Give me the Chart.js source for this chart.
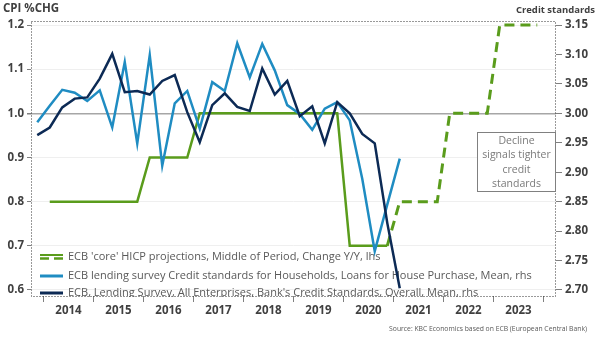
<!DOCTYPE html>
<html>
<head>
<meta charset="utf-8">
<script src="https://cdn.jsdelivr.net/npm/chart.js@4.4.0/dist/chart.umd.min.js"></script>
<style>
  html, body { margin: 0; padding: 0; background: #fff; }
</style>
</head>
<body>
<canvas id="chart" width="600" height="340"></canvas>
<script>
// quarterly observations, 2013Q4 .. 2023Q4
var quarters = [
  '2013Q4',
  '2014Q1', '2014Q2', '2014Q3', '2014Q4',
  '2015Q1', '2015Q2', '2015Q3', '2015Q4',
  '2016Q1', '2016Q2', '2016Q3', '2016Q4',
  '2017Q1', '2017Q2', '2017Q3', '2017Q4',
  '2018Q1', '2018Q2', '2018Q3', '2018Q4',
  '2019Q1', '2019Q2', '2019Q3', '2019Q4',
  '2020Q1', '2020Q2', '2020Q3', '2020Q4',
  '2021Q1', '2021Q2', '2021Q3', '2021Q4',
  '2022Q1', '2022Q2', '2022Q3', '2022Q4',
  '2023Q1', '2023Q2', '2023Q3', '2023Q4'
];
var years = ['2014', '2015', '2016', '2017', '2018', '2019', '2020', '2021', '2022', '2023'];

// ECB core HICP projection (lhs), published part and forward part
var hicpCore = [
  null,
  0.8, 0.8, 0.8, 0.8,
  0.8, 0.8, 0.8, 0.8,
  0.9, 0.9, 0.9, 0.9,
  1.0, 1.0, 1.0, 1.0,
  1.0, 1.0, 1.0, 1.0,
  1.0, 1.0, 1.0, 1.0,
  0.7, 0.7, 0.7, 0.7,
  null, null, null, null,
  null, null, null, null,
  null, null, null, null
];
var hicpProjection = [
  null,
  null, null, null, null,
  null, null, null, null,
  null, null, null, null,
  null, null, null, null,
  null, null, null, null,
  null, null, null, null,
  null, null, null, 0.7,
  0.8, 0.8, 0.8, 0.8,
  1.0, 1.0, 1.0, 1.0,
  1.2, 1.2, 1.2, 1.2
];
// lending survey credit standards (rhs)
var households = [
  2.985,
  3.013, 3.040, 3.035, 3.021,
  3.039, 2.976, 3.087, 2.949,
  3.099, 2.911, 3.017, 3.038,
  2.974, 3.053, 3.038, 3.119,
  3.061, 3.118, 3.073, 3.014,
  2.999, 2.972, 3.008, 3.019,
  2.988, 2.889, 2.766, 2.845,
  2.923, null, null, null,
  null, null, null, null,
  null, null, null, null
];
var enterprises = [
  2.963,
  2.976, 3.010, 3.025, 3.027,
  3.059, 3.101, 3.036, 3.038,
  3.032, 3.055, 3.065, 3.002,
  2.951, 3.014, 3.034, 3.011,
  3.004, 3.076, 3.032, 3.055,
  2.995, 3.012, 2.949, 3.019,
  3.000, 2.965, 2.949, 2.814,
  2.703, null, null, null,
  null, null, null, null,
  null, null, null, null
];

var lhsTicks = [0.6, 0.7, 0.8, 0.9, 1.0, 1.1, 1.2];
var rhsTicks = [2.70, 2.75, 2.80, 2.85, 2.90, 2.95, 3.00, 3.05, 3.10, 3.15];

var GREEN = '#5a9c1c';
var BLUE = '#1f8cc2';
var NAVY = '#0c2a55';
var FONT = "'Open Sans', 'DejaVu Sans', sans-serif";

function quarterPos(q) {
  return Number(q.slice(0, 4)) + (Number(q.slice(5)) - 0.5) / 4;
}
function points(values) {
  return quarters.map(function (q, i) { return { x: quarterPos(q), y: values[i] }; });
}

var legendItems = [
  { text: "ECB 'core' HICP projections, Middle of Period, Change Y/Y, lhs", color: GREEN, both: true },
  { text: 'ECB lending survey Credit standards for Households, Loans for House Purchase, Mean, rhs', color: BLUE },
  { text: "ECB, Lending Survey, All Enterprises, Bank's Credit Standards, Overall, Mean, rhs", color: NAVY }
];

// axis titles, source line, note box, in-plot legend and dotted frame
var decorations = {
  id: 'decorations',
  beforeDatasetsDraw: function (chart) {
    var ctx = chart.ctx, ca = chart.chartArea;
    ctx.save();
    ctx.beginPath();
    ctx.rect(ca.left, ca.top, ca.right - ca.left, ca.bottom - ca.top + 1);
    ctx.clip();
    var ys = [ca.top + 236, ca.top + 255, ca.top + 272];
    legendItems.forEach(function (item, i) {
      var y = ys[i], x0 = ca.left + 9, x1 = ca.left + 32;
      ctx.strokeStyle = item.color;
      if (item.both) {
        ctx.lineWidth = 2;
        ctx.beginPath(); ctx.moveTo(x0, y - 2); ctx.lineTo(x1, y - 2); ctx.stroke();
        ctx.lineWidth = 2.5;
        ctx.setLineDash([9, 5]);
        ctx.beginPath(); ctx.moveTo(x0, y + 1.5); ctx.lineTo(x1, y + 1.5); ctx.stroke();
        ctx.setLineDash([]);
      } else {
        ctx.lineWidth = 3;
        ctx.beginPath(); ctx.moveTo(x0, y); ctx.lineTo(x1, y); ctx.stroke();
      }
      ctx.fillStyle = '#595959';
      ctx.font = '11px ' + FONT;
      ctx.textAlign = 'left';
      ctx.textBaseline = 'middle';
      ctx.fillText(item.text, x1 + 5, y);
    });
    ctx.restore();
  },
  afterDraw: function (chart) {
    var ctx = chart.ctx, ca = chart.chartArea;
    ctx.save();

    // dotted plot frame
    ctx.strokeStyle = '#333';
    ctx.lineWidth = 1;
    ctx.setLineDash([1, 2]);
    ctx.strokeRect(ca.left + 0.5, ca.top + 0.5, ca.right - ca.left - 1, ca.bottom - ca.top);
    ctx.setLineDash([]);

    // axis captions
    ctx.fillStyle = '#404040';
    ctx.textBaseline = 'middle';
    ctx.textAlign = 'left';
    ctx.font = 'bold 11.5px ' + FONT;
    ctx.fillText('CPI %CHG', 3, 9);
    ctx.textAlign = 'right';
    ctx.font = 'bold 9.5px ' + FONT;
    ctx.fillText('Credit standards', 595, 10);

    // note box
    var bx = ca.right - 79, by = ca.top + 111, bw = 79, bh = 60;
    ctx.fillStyle = '#fff';
    ctx.fillRect(bx, by, bw, bh);
    ctx.strokeStyle = '#808080';
    ctx.strokeRect(bx + 0.5, by + 0.5, bw - 1, bh - 1);
    ctx.fillStyle = '#7a7a7a';
    ctx.font = '10.5px ' + FONT;
    ctx.textAlign = 'center';
    ['Decline', 'signals tighter', 'credit', 'standards'].forEach(function (line, i) {
      ctx.fillText(line, bx + bw / 2, by + 9 + i * 14.5);
    });

    // source
    ctx.fillStyle = '#595959';
    ctx.font = '6.8px ' + FONT;
    ctx.textAlign = 'right';
    ctx.fillText('Source: KBC Economics based on ECB (European Central Bank)', 587, 329);
    ctx.restore();
  }
};

var tickFont = { family: FONT, size: 11.5, weight: 'bold' };

var chart = new Chart(document.getElementById('chart'), {
  type: 'line',
  data: {
    datasets: [
      {
        label: legendItems[2].text,
        data: points(enterprises),
        yAxisID: 'y1',
        borderColor: NAVY,
        borderWidth: 2.5,
        order: 0
      },
      {
        label: legendItems[1].text,
        data: points(households),
        yAxisID: 'y1',
        borderColor: BLUE,
        borderWidth: 2.5,
        order: 1
      },
      {
        label: legendItems[0].text,
        data: points(hicpCore),
        yAxisID: 'y',
        borderColor: GREEN,
        borderWidth: 2.5,
        order: 2
      },
      {
        label: 'projection',
        data: points(hicpProjection),
        yAxisID: 'y',
        borderColor: GREEN,
        borderWidth: 3,
        borderDash: [10, 6],
        order: 3
      }
    ]
  },
  options: {
    responsive: false,
    animation: false,
    devicePixelRatio: 1,
    layout: { padding: { top: 21, left: 0, right: 0, bottom: 0 } },
    elements: {
      point: { radius: 0 },
      line: { tension: 0, borderJoinStyle: 'miter', borderCapStyle: 'butt' }
    },
    plugins: {
      legend: { display: false },
      tooltip: { enabled: false }
    },
    scales: {
      x: {
        type: 'linear',
        min: 2013.75,
        max: 2024.25,
        afterBuildTicks: function (scale) {
          var t = [];
          years.forEach(function (y) {
            t.push({ value: Number(y) });
            t.push({ value: Number(y) + 0.5 });
          });
          t.push({ value: Number(years[years.length - 1]) + 1 });
          scale.ticks = t;
        },
        afterFit: function (scale) { scale.height = 44; },
        border: { display: false },
        grid: {
          drawOnChartArea: false,
          tickLength: 6,
          color: function (c) {
            return c.tick && c.tick.value % 1 === 0 ? '#7f7f7f' : 'rgba(0,0,0,0)';
          }
        },
        ticks: {
          autoSkip: false,
          maxRotation: 0,
          padding: 2,
          font: tickFont,
          color: '#404040',
          callback: function (v) { return v % 1 === 0.5 ? String(Math.floor(v)) : ''; }
        }
      },
      y: {
        position: 'left',
        min: 0.5864,
        max: 1.2091,
        afterBuildTicks: function (scale) {
          scale.ticks = lhsTicks.map(function (v) { return { value: v }; });
        },
        afterFit: function (scale) { scale.width = 31; },
        border: { display: false },
        grid: {
          tickLength: 4,
          tickColor: '#7f7f7f',
          color: function (c) {
            return c.tick && Math.abs(c.tick.value - 1) < 1e-6 ? '#a6a6a6' : '#efefef';
          },
          lineWidth: function (c) {
            return c.tick && Math.abs(c.tick.value - 1) < 1e-6 ? 1.5 : 1;
          }
        },
        ticks: {
          padding: 3,
          font: tickFont,
          color: '#404040',
          callback: function (v) { return v.toFixed(1); }
        }
      },
      y1: {
        position: 'right',
        min: 2.6898,
        max: 3.1568,
        afterBuildTicks: function (scale) {
          scale.ticks = rhsTicks.map(function (v) { return { value: v }; });
        },
        afterFit: function (scale) { scale.width = 44; },
        border: { display: false },
        grid: {
          drawOnChartArea: false,
          tickLength: 6,
          color: '#7f7f7f'
        },
        ticks: {
          padding: 3,
          font: tickFont,
          color: '#404040',
          callback: function (v) { return v.toFixed(2); }
        }
      }
    }
  },
  plugins: [decorations]
});
</script>
</body>
</html>
